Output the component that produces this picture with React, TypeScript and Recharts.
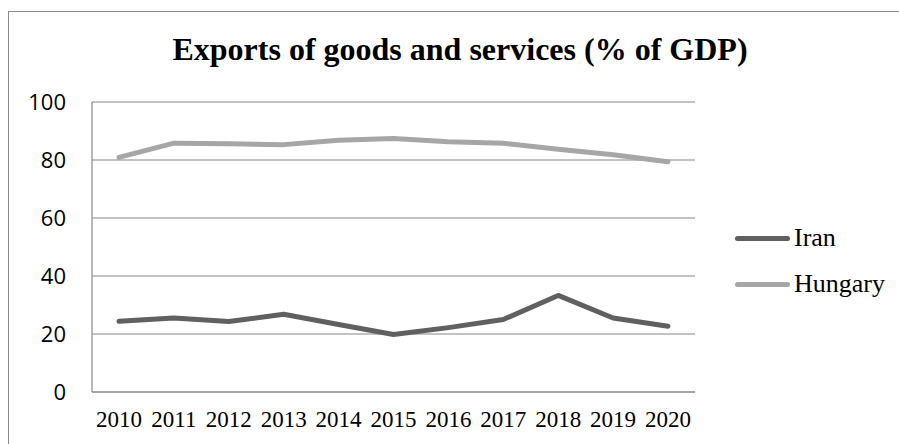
import { LineChart, Line, CartesianGrid, XAxis, YAxis } from "recharts";

const years = ["2010", "2011", "2012", "2013", "2014", "2015", "2016", "2017", "2018", "2019", "2020"];
const iran = [24.4, 25.5, 24.3, 26.8, 23.3, 19.8, 22.2, 25.0, 33.3, 25.5, 22.7];
const hungary = [80.9, 85.8, 85.6, 85.3, 86.8, 87.4, 86.3, 85.8, 83.7, 81.8, 79.4];
const yTicks = [0, 20, 40, 60, 80, 100];

const series = [
  { key: "Iran", color: "#606060" },
  { key: "Hungary", color: "#a6a6a6" },
];

const data = years.map((year, i) => ({ year, Iran: iran[i], Hungary: hungary[i] }));

const GRID = "#878787";
const SERIF = "'Liberation Serif', 'Times New Roman', serif";

function ChartLegend() {
  return (
    <div style={{ position: "absolute", left: 735, top: 215 }}>
      {series.map((s) => (
        <div key={s.key} style={{ display: "flex", alignItems: "center", height: 46 }}>
          <span style={{ display: "inline-block", width: 55, height: 5, borderRadius: 3, background: s.color }} />
          <span style={{ marginLeft: 4, fontFamily: SERIF, fontSize: 26, color: "#000", lineHeight: "26px" }}>
            {s.key}
          </span>
        </div>
      ))}
    </div>
  );
}

export default function App() {
  return (
    <div style={{ position: "absolute", left: 0, top: 0, width: 899, height: 444, background: "#fff", overflow: "hidden" }}>
      <div
        style={{
          position: "absolute",
          left: 8,
          top: 11,
          width: 900,
          height: 440,
          borderLeft: "1.5px solid #8a8a8a",
          borderTop: "1.5px solid #8a8a8a",
        }}
      />
      <div
        style={{
          position: "absolute",
          left: 0,
          top: 32,
          width: 920,
          textAlign: "center",
          fontFamily: SERIF,
          fontWeight: "bold",
          fontSize: 32,
          lineHeight: "34px",
          color: "#000",
        }}
      >
        Exports of goods and services (% of GDP)
      </div>
      <div style={{ position: "absolute", left: 0, top: 0 }}>
        <LineChart width={899} height={444} data={data} margin={{ top: 102, right: 204, left: 32, bottom: 12 }}>
          <CartesianGrid vertical={false} stroke={GRID} strokeWidth={1.2} />
          <XAxis
            dataKey="year"
            padding={{ left: 27, right: 27 }}
            height={40}
            tickLine={false}
            tickSize={0}
            tickMargin={19}
            axisLine={{ stroke: GRID, strokeWidth: 1.2 }}
            tick={{ fill: "#000", fontFamily: SERIF, fontSize: 23 }}
            interval={0}
          />
          <YAxis
            domain={[0, 100]}
            ticks={yTicks}
            width={60}
            tickLine={false}
            tickSize={0}
            tickMargin={26}
            axisLine={{ stroke: GRID, strokeWidth: 1.2 }}
            tick={{ fill: "#000", fontFamily: "'Open Sans', sans-serif", fontSize: 22 }}
          />
          {series.map((s) => (
            <Line
              key={s.key}
              type="linear"
              dataKey={s.key}
              stroke={s.color}
              strokeWidth={5}
              strokeLinecap="round"
              strokeLinejoin="round"
              dot={false}
              activeDot={false}
              isAnimationActive={false}
            />
          ))}
        </LineChart>
      </div>
      <ChartLegend />
    </div>
  );
}
